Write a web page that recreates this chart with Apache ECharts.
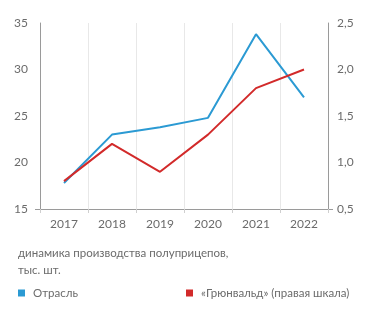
<!doctype html>
<html lang="ru">
<head>
<meta charset="UTF-8">
<title>Полуприцепы</title>
<script src="https://cdn.jsdelivr.net/npm/echarts@6/dist/echarts.min.js"></script>
<style>
  html, body { margin: 0; padding: 0; background: #fff; }
  #main { width: 371px; height: 316px; }
</style>
</head>
<body>
<div id="main"></div>
<script>
// данные
var years = ['2017', '2018', '2019', '2020', '2021', '2022'];
var industry = [17.8, 23.0, 23.8, 24.8, 33.8, 27.0];   // Отрасль, тыс. шт.
var gruenwald = [0.8, 1.2, 0.9, 1.3, 1.8, 2.0];        // «Грюнвальд», правая шкала
var leftTicks = [15, 35, 5];      // min, max, interval
var rightTicks = [0.5, 2.5, 0.5];

var nameA = 'Отрасль';
var nameB = '«Грюнвальд» (правая шкала)';
var txt = '#6b6b6b';
var font = 'Lato, "Open Sans", sans-serif';

var chart = echarts.init(document.getElementById('main'));

function comma(v) { return v.toFixed(1).replace('.', ','); }

chart.setOption({
    animation: false,
    textStyle: { fontFamily: font },
    grid: { left: 40, right: 43, top: 23, bottom: 107 },
    title: {
        text: 'динамика производства полуприцепов,\nтыс. шт.',
        left: 13, top: 240,
        textStyle: { fontSize: 11.5, fontWeight: 'normal', color: txt, lineHeight: 17, fontFamily: font }
    },
    legend: [{
        data: [nameA], left: 13, top: 282, icon: 'rect', itemWidth: 7, itemHeight: 7,
        textStyle: { fontSize: 11.5, color: txt, padding: [0, 0, 0, 3], fontFamily: font }
    }, {
        data: [nameB], left: 181, top: 282, icon: 'rect', itemWidth: 7, itemHeight: 7,
        textStyle: { fontSize: 11.5, color: txt, padding: [0, 0, 0, 3], fontFamily: font }
    }],
    xAxis: {
        type: 'category',
        data: years,
        boundaryGap: true,
        axisLine: { lineStyle: { color: '#9a9a9a', width: 1 } },
        axisTick: { show: true, length: 4, lineStyle: { color: '#cfcfcf' } },
        axisLabel: { color: txt, fontSize: 12, margin: 9 },
        splitLine: { show: true, lineStyle: { color: '#e8e8e8' } }
    },
    yAxis: [{
        type: 'value',
        min: leftTicks[0], max: leftTicks[1], interval: leftTicks[2],
        axisLine: { show: true, lineStyle: { color: '#9a9a9a' } },
        axisTick: { show: true, length: 5, customValues: [leftTicks[0]], lineStyle: { color: '#9a9a9a' } },
        axisLabel: { color: txt, fontSize: 12, margin: 12 },
        splitLine: { lineStyle: { color: '#e8e8e8' } }
    }, {
        type: 'value',
        position: 'right',
        min: rightTicks[0], max: rightTicks[1], interval: rightTicks[2],
        axisLine: { show: true, lineStyle: { color: '#9a9a9a' } },
        axisTick: { show: true, length: 5, customValues: [rightTicks[0]], lineStyle: { color: '#9a9a9a' } },
        axisLabel: { color: txt, fontSize: 12, margin: 9, formatter: comma },
        splitLine: { show: false }
    }],
    series: [{
        name: nameA, type: 'line', data: industry, yAxisIndex: 0,
        showSymbol: false, symbol: 'none',
        itemStyle: { color: '#2b9ad3' },
        lineStyle: { color: '#2b9ad3', width: 2 }
    }, {
        name: nameB, type: 'line', data: gruenwald, yAxisIndex: 1,
        showSymbol: false, symbol: 'none',
        itemStyle: { color: '#d22a2a' },
        lineStyle: { color: '#d22a2a', width: 2 }
    }]
});
</script>
</body>
</html>
